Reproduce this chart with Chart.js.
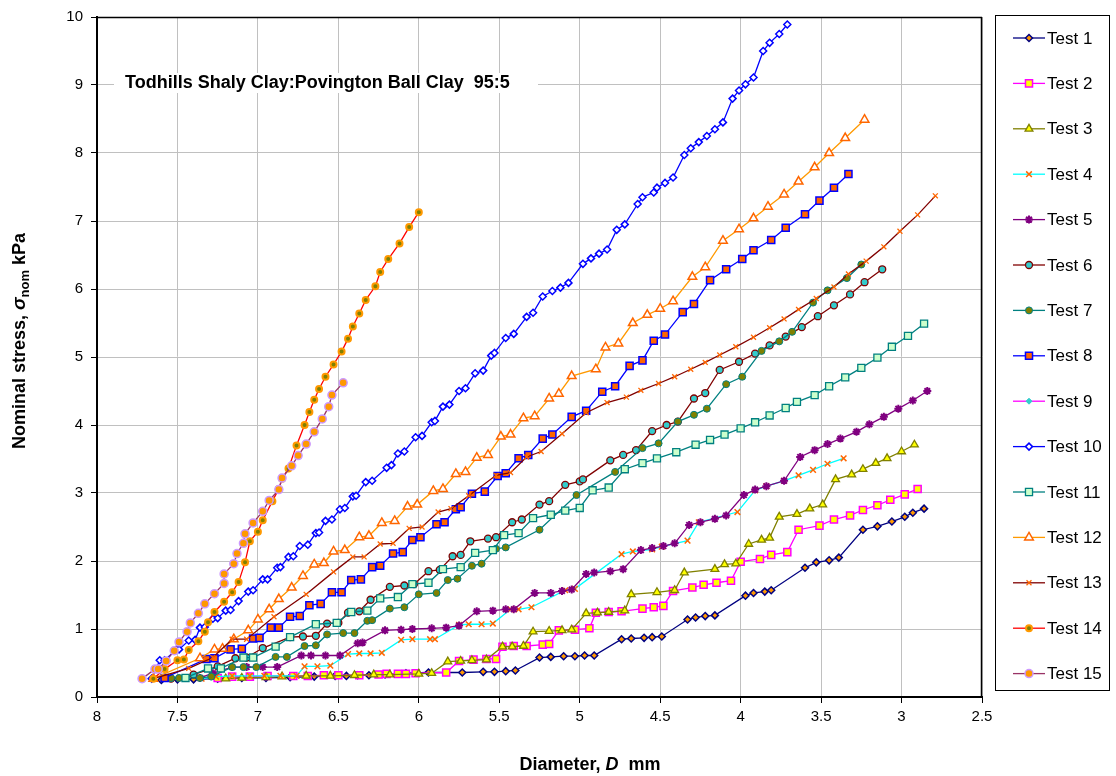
<!DOCTYPE html>
<html>
<head>
<meta charset="utf-8">
<script src="https://cdn.jsdelivr.net/npm/chart.js@4/dist/chart.umd.min.js"></script>
<style>
  body { margin: 0; background: #fff; }
  #wrap { width: 1116px; height: 776px; }
</style>
</head>
<body>
<div id="wrap"><canvas id="chart" width="1116" height="776"></canvas></div>
<script>
// Diameter D (mm), nominal stress (kPa) pairs
const test1 = [[7.6,0.25],[7.5,0.26],[7.4,0.26],[7.25,0.27],[7.1,0.28],[6.95,0.28],[6.8,0.29],[6.65,0.30],[6.52,0.31],[6.45,0.31],[6.38,0.32],[6.31,0.32],[6.21,0.33],[6.08,0.35],[5.94,0.36],[5.73,0.36],[5.60,0.37],[5.53,0.37],[5.46,0.38],[5.40,0.39],[5.25,0.58],[5.18,0.59],[5.10,0.60],[5.03,0.60],[4.97,0.61],[4.91,0.61],[4.74,0.85],[4.68,0.86],[4.60,0.87],[4.55,0.88],[4.49,0.89],[4.33,1.14],[4.28,1.17],[4.22,1.19],[4.16,1.20],[3.97,1.49],[3.92,1.53],[3.85,1.55],[3.81,1.57],[3.60,1.90],[3.53,1.98],[3.45,2.01],[3.39,2.05],[3.24,2.46],[3.15,2.51],[3.06,2.58],[2.98,2.65],[2.93,2.71],[2.86,2.77]];
const test2 = [[7.25,0.28],[7.16,0.30],[7.05,0.30],[6.94,0.31],[6.78,0.31],[6.69,0.31],[6.59,0.32],[6.50,0.32],[6.37,0.32],[6.25,0.33],[6.20,0.34],[6.13,0.34],[6.08,0.34],[6.02,0.35],[5.83,0.36],[5.75,0.53],[5.66,0.55],[5.58,0.56],[5.52,0.56],[5.48,0.74],[5.41,0.75],[5.33,0.75],[5.23,0.77],[5.19,0.78],[5.13,0.98],[5.03,0.99],[4.94,1.01],[4.90,1.24],[4.82,1.25],[4.74,1.26],[4.61,1.30],[4.54,1.32],[4.48,1.34],[4.42,1.56],[4.30,1.61],[4.23,1.65],[4.15,1.68],[4.06,1.71],[4.00,1.99],[3.88,2.03],[3.81,2.09],[3.71,2.13],[3.64,2.46],[3.51,2.52],[3.42,2.61],[3.32,2.67],[3.24,2.75],[3.15,2.82],[3.07,2.90],[2.98,2.98],[2.90,3.06]];
const test3 = [[7.2,0.27],[7.1,0.28],[6.95,0.29],[6.85,0.30],[6.7,0.31],[6.55,0.31],[6.4,0.32],[6.28,0.33],[6.18,0.33],[6.00,0.34],[5.92,0.35],[5.82,0.52],[5.74,0.53],[5.67,0.54],[5.58,0.55],[5.48,0.74],[5.42,0.74],[5.35,0.75],[5.29,0.96],[5.19,0.97],[5.11,0.98],[5.05,0.99],[4.96,1.23],[4.89,1.24],[4.82,1.25],[4.72,1.27],[4.68,1.51],[4.52,1.54],[4.41,1.57],[4.35,1.83],[4.16,1.88],[4.10,1.95],[4.03,1.96],[3.95,2.25],[3.87,2.31],[3.82,2.34],[3.76,2.65],[3.65,2.69],[3.57,2.77],[3.49,2.83],[3.41,3.20],[3.31,3.27],[3.24,3.35],[3.16,3.44],[3.09,3.51],[3.00,3.61],[2.92,3.71]];
const test4 = [[7.35,0.27],[7.26,0.30],[7.16,0.31],[7.05,0.31],[6.96,0.31],[6.86,0.31],[6.76,0.31],[6.71,0.45],[6.63,0.45],[6.55,0.46],[6.44,0.63],[6.37,0.64],[6.30,0.64],[6.23,0.65],[6.11,0.84],[6.04,0.85],[5.93,0.85],[5.90,0.85],[5.75,1.06],[5.69,1.07],[5.61,1.07],[5.54,1.08],[5.43,1.29],[5.38,1.29],[5.30,1.32],[5.09,1.57],[5.03,1.59],[4.74,2.10],[4.67,2.14],[4.55,2.17],[4.49,2.21],[4.33,2.30],[4.26,2.57],[4.02,2.72],[3.91,3.04],[3.84,3.10],[3.73,3.18],[3.64,3.26],[3.55,3.34],[3.46,3.43],[3.36,3.51]];
const test5 = [[7.36,0.28],[7.28,0.35],[7.16,0.44],[7.07,0.44],[6.97,0.44],[6.88,0.44],[6.73,0.61],[6.67,0.61],[6.58,0.61],[6.49,0.61],[6.38,0.79],[6.35,0.80],[6.21,0.98],[6.11,0.99],[6.04,1.00],[5.92,1.01],[5.83,1.02],[5.75,1.05],[5.64,1.26],[5.54,1.27],[5.46,1.29],[5.41,1.29],[5.28,1.53],[5.18,1.53],[5.11,1.56],[5.05,1.58],[4.96,1.81],[4.91,1.83],[4.81,1.85],[4.73,1.88],[4.62,2.16],[4.55,2.19],[4.48,2.22],[4.41,2.26],[4.32,2.53],[4.25,2.57],[4.16,2.62],[4.09,2.67],[3.98,2.97],[3.91,3.05],[3.84,3.10],[3.73,3.18],[3.63,3.53],[3.54,3.63],[3.46,3.72],[3.38,3.80],[3.28,3.90],[3.20,4.01],[3.11,4.12],[3.02,4.24],[2.93,4.36],[2.84,4.50]];
const test6 = [[7.54,0.27],[7.40,0.33],[7.25,0.45],[7.14,0.57],[7.07,0.58],[6.97,0.72],[6.80,0.88],[6.72,0.89],[6.64,0.90],[6.57,1.08],[6.50,1.09],[6.44,1.24],[6.37,1.26],[6.30,1.43],[6.18,1.62],[6.09,1.64],[6.03,1.66],[5.94,1.85],[5.87,1.87],[5.79,2.07],[5.74,2.09],[5.68,2.29],[5.57,2.33],[5.52,2.35],[5.42,2.57],[5.36,2.61],[5.25,2.83],[5.19,2.88],[5.09,3.12],[5.00,3.17],[4.98,3.20],[4.81,3.48],[4.73,3.56],[4.65,3.63],[4.55,3.91],[4.46,4.00],[4.39,4.05],[4.29,4.39],[4.22,4.47],[4.13,4.81],[4.01,4.93],[3.91,5.05],[3.82,5.17],[3.72,5.30],[3.62,5.44],[3.52,5.60],[3.42,5.76],[3.32,5.92],[3.23,6.10],[3.12,6.29]];
const test7 = [[7.54,0.28],[7.49,0.28],[7.36,0.28],[7.29,0.30],[7.16,0.44],[7.09,0.44],[7.01,0.44],[6.89,0.59],[6.82,0.59],[6.71,0.75],[6.64,0.76],[6.57,0.92],[6.47,0.94],[6.40,0.94],[6.32,1.12],[6.29,1.13],[6.18,1.30],[6.09,1.32],[6.00,1.51],[5.89,1.53],[5.82,1.72],[5.76,1.74],[5.67,1.93],[5.61,1.96],[5.52,2.18],[5.46,2.20],[5.25,2.46],[5.02,2.97],[4.78,3.31],[4.61,3.66],[4.51,3.73],[4.39,4.05],[4.29,4.15],[4.21,4.24],[4.09,4.60],[3.99,4.71],[3.87,5.09],[3.76,5.23],[3.68,5.37],[3.55,5.80],[3.46,5.98],[3.34,6.16],[3.25,6.36]];
const test8 = [[7.58,0.28],[7.32,0.56],[7.27,0.57],[7.17,0.70],[7.10,0.71],[7.03,0.86],[6.99,0.87],[6.92,1.02],[6.87,1.02],[6.80,1.18],[6.74,1.19],[6.68,1.35],[6.61,1.37],[6.54,1.54],[6.48,1.54],[6.42,1.72],[6.36,1.73],[6.29,1.91],[6.24,1.93],[6.16,2.11],[6.10,2.13],[6.04,2.31],[5.99,2.35],[5.89,2.54],[5.84,2.57],[5.77,2.76],[5.74,2.79],[5.67,2.99],[5.59,3.02],[5.51,3.25],[5.46,3.29],[5.38,3.51],[5.32,3.56],[5.23,3.80],[5.17,3.86],[5.05,4.12],[4.96,4.21],[4.86,4.49],[4.78,4.57],[4.69,4.87],[4.61,4.95],[4.54,5.24],[4.47,5.33],[4.36,5.66],[4.29,5.78],[4.19,6.13],[4.09,6.29],[3.99,6.44],[3.92,6.57],[3.81,6.72],[3.72,6.90],[3.60,7.10],[3.51,7.30],[3.42,7.49],[3.33,7.69]];
const test9 = [];
const test10 = [[7.66,0.27],[7.61,0.54],[7.58,0.54],[7.51,0.69],[7.49,0.70],[7.43,0.83],[7.39,0.84],[7.36,1.02],[7.33,1.03],[7.28,1.15],[7.25,1.16],[7.20,1.27],[7.17,1.28],[7.12,1.41],[7.06,1.55],[7.03,1.57],[6.97,1.73],[6.94,1.73],[6.88,1.90],[6.86,1.91],[6.81,2.06],[6.78,2.07],[6.74,2.22],[6.69,2.24],[6.64,2.41],[6.62,2.42],[6.58,2.59],[6.54,2.61],[6.49,2.76],[6.46,2.78],[6.41,2.95],[6.39,2.96],[6.33,3.16],[6.29,3.18],[6.20,3.37],[6.17,3.41],[6.13,3.58],[6.09,3.61],[6.02,3.82],[5.98,3.84],[5.92,4.04],[5.90,4.06],[5.85,4.27],[5.81,4.30],[5.75,4.50],[5.71,4.54],[5.65,4.76],[5.60,4.80],[5.55,5.02],[5.53,5.06],[5.46,5.28],[5.41,5.34],[5.33,5.59],[5.29,5.65],[5.23,5.89],[5.17,5.97],[5.12,6.02],[5.07,6.09],[4.98,6.37],[4.93,6.45],[4.88,6.52],[4.83,6.58],[4.77,6.87],[4.72,6.95],[4.64,7.25],[4.61,7.35],[4.54,7.42],[4.52,7.49],[4.47,7.56],[4.42,7.64],[4.35,7.97],[4.31,8.07],[4.26,8.16],[4.21,8.25],[4.16,8.35],[4.11,8.45],[4.05,8.80],[4.01,8.92],[3.97,9.01],[3.92,9.11],[3.86,9.50],[3.82,9.62],[3.76,9.75],[3.71,9.89]];
const test11 = [[7.45,0.28],[7.31,0.42],[7.23,0.42],[7.09,0.58],[7.03,0.58],[6.89,0.74],[6.80,0.88],[6.64,1.07],[6.51,1.09],[6.42,1.25],[6.32,1.27],[6.24,1.45],[6.13,1.47],[6.04,1.66],[5.94,1.68],[5.85,1.88],[5.74,1.91],[5.65,2.12],[5.54,2.16],[5.47,2.38],[5.38,2.41],[5.29,2.63],[5.18,2.68],[5.09,2.74],[5.00,2.78],[4.92,3.04],[4.82,3.08],[4.72,3.35],[4.61,3.44],[4.52,3.51],[4.40,3.60],[4.28,3.71],[4.19,3.78],[4.10,3.86],[4.00,3.95],[3.91,4.04],[3.82,4.14],[3.72,4.25],[3.65,4.34],[3.54,4.44],[3.45,4.57],[3.35,4.70],[3.25,4.84],[3.15,4.99],[3.06,5.15],[2.96,5.31],[2.86,5.49]];
const test12 = [[7.65,0.27],[7.36,0.57],[7.27,0.70],[7.22,0.71],[7.15,0.85],[7.06,0.98],[7.00,1.14],[6.93,1.29],[6.87,1.44],[6.79,1.61],[6.72,1.78],[6.65,1.95],[6.59,1.97],[6.53,2.14],[6.46,2.16],[6.37,2.35],[6.31,2.37],[6.23,2.56],[6.15,2.59],[6.07,2.80],[6.01,2.83],[5.91,3.03],[5.85,3.06],[5.77,3.28],[5.71,3.31],[5.64,3.52],[5.57,3.56],[5.49,3.83],[5.43,3.86],[5.35,4.10],[5.28,4.13],[5.19,4.39],[5.13,4.46],[5.05,4.72],[4.90,4.82],[4.84,5.14],[4.76,5.20],[4.67,5.50],[4.58,5.62],[4.50,5.71],[4.42,5.82],[4.30,6.18],[4.22,6.32],[4.11,6.71],[4.01,6.88],[3.92,7.04],[3.83,7.21],[3.73,7.39],[3.64,7.58],[3.54,7.79],[3.45,8.00],[3.35,8.22],[3.23,8.49]];
const test13 = [[7.65,0.27],[7.43,0.42],[7.28,0.58],[7.16,0.85],[7.07,0.85],[6.90,1.18],[6.70,1.51],[6.53,1.84],[6.41,2.06],[6.34,2.06],[6.24,2.25],[6.16,2.26],[6.06,2.48],[5.98,2.50],[5.88,2.72],[5.80,2.77],[5.69,2.96],[5.52,3.26],[5.43,3.30],[5.33,3.53],[5.24,3.61],[5.11,3.87],[4.96,4.18],[4.83,4.33],[4.71,4.41],[4.62,4.51],[4.51,4.61],[4.41,4.71],[4.31,4.82],[4.22,4.92],[4.13,5.03],[4.03,5.15],[3.92,5.29],[3.82,5.43],[3.73,5.56],[3.64,5.70],[3.53,5.86],[3.42,6.03],[3.33,6.22],[3.22,6.41],[3.11,6.62],[3.01,6.85],[2.90,7.09],[2.79,7.37]];
const test14 = [[7.65,0.27],[7.58,0.41],[7.50,0.54],[7.46,0.55],[7.43,0.69],[7.37,0.82],[7.33,0.96],[7.31,1.10],[7.27,1.25],[7.21,1.40],[7.16,1.54],[7.12,1.69],[7.08,1.98],[7.05,2.29],[7.00,2.43],[6.97,2.60],[6.91,2.88],[6.87,3.06],[6.85,3.21],[6.81,3.36],[6.76,3.70],[6.71,4.00],[6.68,4.19],[6.65,4.37],[6.62,4.53],[6.58,4.71],[6.53,4.89],[6.48,5.08],[6.44,5.27],[6.41,5.45],[6.37,5.64],[6.33,5.84],[6.27,6.04],[6.24,6.25],[6.19,6.44],[6.12,6.67],[6.06,6.91],[6.00,7.13]];
const test15 = [[7.72,0.27],[7.64,0.41],[7.62,0.41],[7.57,0.53],[7.52,0.68],[7.49,0.81],[7.44,0.96],[7.42,1.09],[7.37,1.23],[7.33,1.37],[7.27,1.52],[7.21,1.67],[7.21,1.81],[7.15,1.96],[7.13,2.11],[7.09,2.26],[7.08,2.40],[7.03,2.56],[6.97,2.73],[6.93,2.89],[6.87,3.05],[6.85,3.22],[6.79,3.40],[6.75,3.55],[6.70,3.72],[6.65,3.90],[6.60,4.09],[6.56,4.27],[6.54,4.44],[6.47,4.62]];

const seriesNames = ['Test 1','Test 2','Test 3','Test 4','Test 5','Test 6','Test 7','Test 8','Test 9','Test 10','Test 11','Test 12','Test 13','Test 14','Test 15'];
const seriesData = [test1,test2,test3,test4,test5,test6,test7,test8,test9,test10,test11,test12,test13,test14,test15];
const xTicks = [8,7.5,7,6.5,6,5.5,5,4.5,4,3.5,3,2.5];

// line colour, marker style, marker fill, marker edge, radius, edge width
const looks = [
  ['#000080','rectRot','#FF9900','#000080',3.5,1.5],
  ['#FF00FF','rect','#FFFF00','#FF00FF',5,1.5],
  ['#808000','triangle','#FFFF00','#808000',4.5,1.3],
  ['#00FFFF','crossRot','#FF6600','#FF6600',4,1.5],
  ['#800080','star','#800080','#800080',4,2],
  ['#800000','circle','#33CCCC','#800000',3.5,1.3],
  ['#008080','circle','#808000','#008080',3.5,1],
  ['#0000FF','rect','#FF6600','#0000FF',5,1.5],
  ['#FF00FF','rectRot','#33CCCC','#33CCCC',3,1],
  ['#0000FF','rectRot','#FFFFFF','#0000FF',3.5,1.5],
  ['#008080','rect','#CCFFCC','#008080',5,1.3],
  ['#FF9900','triangle','#FFFFFF','#FF6600',5,1.5],
  ['#800000','crossRot','#FF6600','#FF6600',3.5,1.3],
  ['#FF0000','circle','#808000','#FF9900',3,2],
  ['#993366','circle','#FF9900','#CC99FF',4,1.5]
];

const FONT = 'Liberation Sans, Arial, sans-serif';

const datasets = seriesData.map(function(pts, i) {
  const lk = looks[i];
  return {
    label: seriesNames[i],
    data: pts.map(function(p) { return {x: p[0], y: p[1]}; }),
    showLine: true,
    borderColor: lk[0],
    borderWidth: 1.3,
    pointStyle: lk[1],
    pointBackgroundColor: lk[2],
    pointBorderColor: lk[3],
    pointRadius: lk[4],
    pointBorderWidth: lk[5],
    tension: 0,
    order: 15 - i
  };
});

function drawMixed(ctx, parts, x, y) {
  // parts: [text, font, dy]
  let w = 0;
  parts.forEach(function(p) { ctx.font = p[1]; w += ctx.measureText(p[0]).width; });
  let cx = x - w / 2;
  parts.forEach(function(p) {
    ctx.font = p[1];
    ctx.fillText(p[0], cx, y + (p[2] || 0));
    cx += ctx.measureText(p[0]).width;
  });
}

const extras = {
  id: 'extras',
  afterDraw(chart) {
    const ctx = chart.ctx;
    const a = chart.chartArea;
    ctx.save();
    // plot border
    ctx.strokeStyle = '#000';
    ctx.lineWidth = 1.5;
    ctx.beginPath();
    ctx.moveTo(a.left, a.top + 0.5); ctx.lineTo(a.right, a.top + 0.5);
    ctx.moveTo(a.right - 0.5, a.top); ctx.lineTo(a.right - 0.5, a.bottom);
    ctx.stroke();

    // caption inside the plot
    ctx.fillStyle = '#fff';
    ctx.fillRect(114, 73, 424, 20);
    ctx.fillStyle = '#000';
    ctx.font = 'bold 18px ' + FONT;
    ctx.textBaseline = 'middle';
    ctx.textAlign = 'left';
    ctx.fillText('Todhills Shaly Clay:Povington Ball Clay  95:5', 125, 83);

    // axis titles
    ctx.textBaseline = 'alphabetic';
    drawMixed(ctx, [
      ['Diameter, ', 'bold 18px ' + FONT],
      ['D', 'italic bold 18px ' + FONT],
      ['  mm', 'bold 18px ' + FONT]
    ], 590, 770);
    ctx.save();
    ctx.translate(25, 341);
    ctx.rotate(-Math.PI / 2);
    drawMixed(ctx, [
      ['Nominal stress, ', 'bold 18px ' + FONT],
      ['σ', 'italic bold 19px ' + FONT],
      ['nom', 'bold 13px ' + FONT, 4],
      [' kPa', 'bold 18px ' + FONT]
    ], 0, 0);
    ctx.restore();

    // legend
    ctx.strokeStyle = '#000';
    ctx.lineWidth = 1;
    ctx.strokeRect(995.5, 15.5, 114, 675);
    chart.data.datasets.forEach(function(ds, i) {
      const y = 38 + i * 45.4;
      ctx.strokeStyle = ds.borderColor;
      ctx.lineWidth = 1.3;
      ctx.beginPath();
      ctx.moveTo(1013, y); ctx.lineTo(1045, y);
      ctx.stroke();
      ctx.fillStyle = ds.pointBackgroundColor;
      ctx.strokeStyle = ds.pointBorderColor;
      ctx.lineWidth = ds.pointBorderWidth;
      Chart.helpers.drawPoint(ctx, {pointStyle: ds.pointStyle, radius: ds.pointRadius, rotation: 0, borderWidth: ds.pointBorderWidth}, 1029, y);
      ctx.fillStyle = '#000';
      ctx.font = '17px ' + FONT;
      ctx.textAlign = 'left';
      ctx.textBaseline = 'middle';
      ctx.fillText(ds.label, 1047, y + 1);
    });
    ctx.restore();
  }
};

new Chart(document.getElementById('chart'), {
  type: 'scatter',
  data: { datasets: datasets },
  plugins: [extras],
  options: {
    responsive: false,
    animation: false,
    devicePixelRatio: 1,
    layout: { padding: { left: 0, top: 15, right: 134, bottom: 0 } },
    plugins: { legend: { display: false }, tooltip: { enabled: false } },
    scales: {
      x: {
        type: 'linear',
        reverse: true,
        min: 2.5,
        max: 8,
        afterFit: function(s) { s.height = 79; },
        afterBuildTicks: function(s) { s.ticks = xTicks.map(function(v) { return {value: v}; }); },
        grid: { color: '#C0C0C0', lineWidth: 1, tickColor: '#000', tickLength: 6 },
        border: { color: '#000', width: 2 },
        ticks: { color: '#000', font: { family: FONT, size: 15 }, padding: 5, maxRotation: 0,
                 callback: function(v) { return String(v); } }
      },
      y: {
        min: 0,
        max: 10,
        afterFit: function(s) { s.width = 97; },
        grid: { color: '#C0C0C0', lineWidth: 1, tickColor: '#000', tickLength: 6 },
        border: { color: '#000', width: 2 },
        ticks: { stepSize: 1, color: '#000', font: { family: FONT, size: 15 }, padding: 8 }
      }
    }
  }
});
</script>
</body>
</html>
